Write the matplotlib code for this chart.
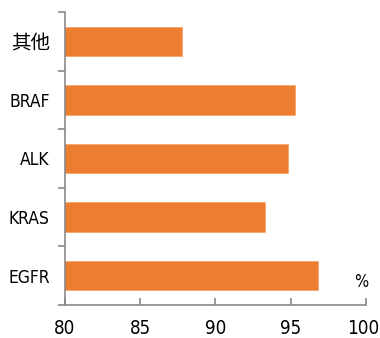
import matplotlib
matplotlib.use("Agg")
import matplotlib.pyplot as plt
from matplotlib.transforms import ScaledTranslation

genes = ["EGFR", "KRAS", "ALK", "BRAF", "其他"]
rates = [96.8, 93.3, 94.8, 95.3, 87.8]
x_ticks = [80, 85, 90, 95, 100]

plt.rcParams["font.family"] = ["DejaVu Sans", "Noto Sans CJK SC"]
plt.rcParams["font.stretch"] = "condensed"

axis_grey = "#898989"

fig = plt.figure(figsize=(3.8, 3.38), dpi=100)
ax = fig.add_axes([0.171, 0.0976, 0.792, 0.867])

pos = list(range(len(genes)))
ax.barh(pos, rates, height=0.5, left=0, color="#ED7D31", edgecolor="#F4A46E", linewidth=0.6)

ax.set_xlim(80, 100)
ax.set_ylim(-0.5, len(genes) - 0.5)
ax.set_xticks(x_ticks)
ax.set_xticklabels([str(t) for t in x_ticks], fontsize=13.5)
ax.tick_params(axis="x", direction="in", length=5, color=axis_grey, width=1.2, pad=10)

# keep the last label inside the figure edge
last = ax.get_xticklabels()[-1]
last.set_horizontalalignment("right")
last.set_transform(last.get_transform() + ScaledTranslation(0.13, 0, fig.dpi_scale_trans))

# category labels in the middle, tick marks on the boundaries
ax.set_yticks(pos)
ax.set_yticklabels(genes, fontsize=12.5)
ax.get_yticklabels()[-1].set_fontfamily(["Noto Sans CJK SC"])
ax.get_yticklabels()[-1].set_fontsize(14)
ax.tick_params(axis="y", which="major", length=0, pad=11)
ax.set_yticks([p - 0.5 for p in pos] + [len(genes) - 0.5], minor=True)
ax.tick_params(axis="y", which="minor", direction="out", length=5, color=axis_grey, width=1.2)

for side in ["top", "right"]:
    ax.spines[side].set_visible(False)
for side in ["left", "bottom"]:
    ax.spines[side].set_color(axis_grey)
    ax.spines[side].set_linewidth(1.2)

ax.text(99.72, -0.1, "%", fontsize=12, ha="center", va="center")

fig.savefig("out.png", dpi=100)
